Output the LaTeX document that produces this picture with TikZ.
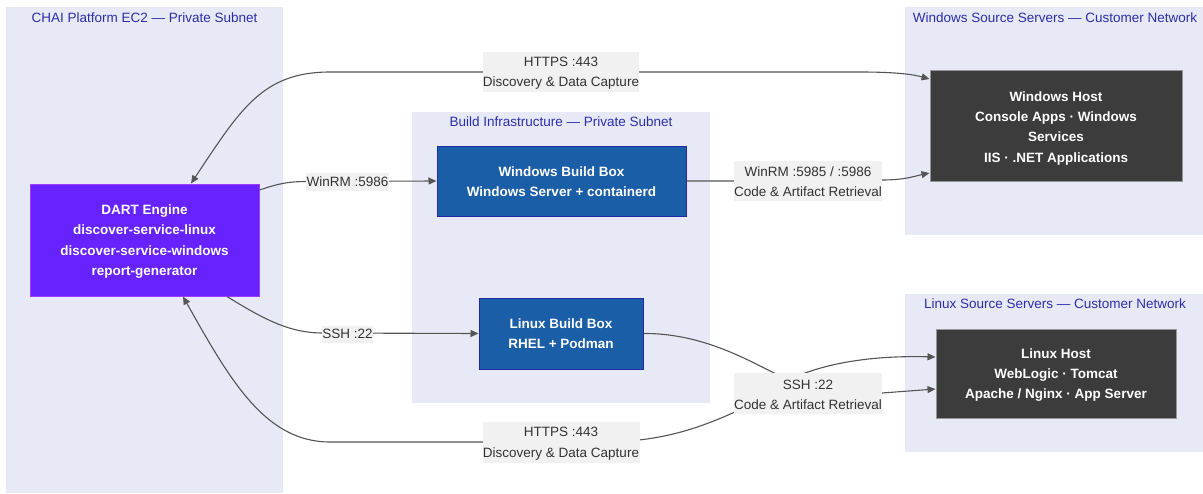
\documentclass[tikz,border=0pt]{standalone}
\usepackage{fontspec}
\setmainfont{Liberation Sans}
\usetikzlibrary{arrows.meta}
\definecolor{clfill}{RGB}{232,233,246}
\definecolor{cltext}{RGB}{45,45,170}
\definecolor{dartfill}{RGB}{102,34,255}
\definecolor{dartdraw}{RGB}{160,60,255}
\definecolor{bbfill}{RGB}{27,94,168}
\definecolor{bbdraw}{RGB}{35,40,165}
\definecolor{hostfill}{RGB}{60,60,60}
\definecolor{hostdraw}{RGB}{150,150,150}
\definecolor{lblfill}{RGB}{240,241,240}
\definecolor{lbltext}{RGB}{51,51,51}
\definecolor{edgecol}{RGB}{85,85,85}
\newcommand\dnr[1]{\rule{0pt}{#1}}
\begin{document}
\begin{tikzpicture}[x=1pt,y=-1pt,
  basefont/.style={font=\fontsize{13.5}{20.3}\selectfont},
  cluster/.style={fill=clfill,draw=none},
  cltitle/.style={basefont,text=cltext,inner sep=0pt},
  boxnode/.style={basefont,align=center,inner sep=0pt,text=white,line width=1pt},
  dartbox/.style={boxnode,fill=dartfill,draw=dartdraw,font=\fontsize{13.5}{20.3}\selectfont\bfseries},
  buildbox/.style={boxnode,fill=bbfill,draw=bbdraw,font=\fontsize{13.5}{20.3}\selectfont\bfseries},
  hostbox/.style={boxnode,fill=hostfill,draw=hostdraw,font=\fontsize{13.5}{20.3}\selectfont\bfseries},
  lbl/.style={basefont,fill=lblfill,text=lbltext,align=center,inner sep=0pt},
  conn/.style={draw=edgecol,line width=1.1pt},
  tip/.tip={Triangle[length=8pt,width=7pt]}
]
\useasboundingbox (0,0) rectangle (1203,493);
\fill[white] (0,0) rectangle (1203,493);

% clusters
\fill[cluster] (6,7) rectangle (283,493);
\node[cltitle] (t1) at (144.5,18) {CHAI Platform EC2 — Private Subnet};
\fill[cluster] (412,112) rectangle (710,403);
\node[cltitle] (t2) at (561,122) {Build Infrastructure — Private Subnet};
\fill[cluster] (905,7) rectangle (1203,235);
\node[cltitle] (t3) at (1055,18) {Windows Source Servers — Customer Network};
\fill[cluster] (905,294) rectangle (1203,452);
\node[cltitle] (t4) at (1055,304) {Linux Source Servers — Customer Network};

% nodes
\node[dartbox,minimum width=229pt,minimum height=112pt] (dart) at (144.5,240)
  {\dnr{12.8pt}DART Engine\\discover-service-linux\\discover-service-windows\\report-generator};
\node[buildbox,minimum width=249pt,minimum height=70pt] (winbuild) at (561.5,181)
  {\dnr{11.8pt}Windows Build Box\\Windows Server + containerd};
\node[buildbox,minimum width=164pt,minimum height=71pt] (linbuild) at (561,333.5)
  {Linux Build Box\\RHEL + Podman};
\node[hostbox,minimum width=252pt,minimum height=111pt] (winhost) at (1056,125.5)
  {\dnr{15pt}Windows Host\\Console Apps · Windows\\Services\\IIS · .NET Applications};
\node[hostbox,minimum width=240pt,minimum height=89pt] (linhost) at (1056,373.5)
  {\dnr{12.8pt}Linux Host\\WebLogic · Tomcat\\Apache / Nginx · App Server};

% connector end points
\coordinate (e1s) at ([xshift=46.5pt]dart.north);
\coordinate (e1e) at ([yshift=46.5pt]winhost.west);
\coordinate (e2s) at ([yshift=50pt]dart.east);
\coordinate (e3e) at ([yshift=-47.5pt]winhost.west);
\coordinate (e4s) at ([xshift=82.5pt]dart.south);
\coordinate (e5e) at ([yshift=16.5pt]linhost.west);
\coordinate (e6s) at ([xshift=38.5pt]dart.south);
\coordinate (e6e) at ([yshift=-15.5pt]linhost.west);

% connectors
\draw[conn,{tip}-{tip}] (e1s) .. controls (240,110) and (262,72) .. (330,72)
  -- (860,72) .. controls (900,72) and (915,75) .. (e1e);
\draw[conn,-{tip}] (e2s) .. controls (280,183) and (290,181.5) .. (307,181.5)
  -- (winbuild.west);
\draw[conn,-{tip}] (winbuild.east) -- (800,181) -- (882,180)
  .. controls (905,180) and (915,176) .. (e3e);
\draw[conn,-{tip}] (e4s) .. controls (265,320) and (290,333) .. (323,333)
  -- (linbuild.west);
\draw[conn,-{tip}] (linbuild.east) .. controls (710,333) and (760,368) .. (789,380)
  .. controls (815,367) and (860,355) .. (e5e);
\draw[conn,{tip}-{tip}] (e6s) .. controls (230,380) and (265,442) .. (330,442)
  -- (600,442) .. controls (660,442) and (700,430) .. (760,400)
  -- (882,393) -- (e6e);

% labels
\node[lbl,minimum width=156pt,minimum height=40pt] (l1) at (561,72)
  {\dnr{11.8pt}HTTPS :443\\Discovery \& Data Capture};
\node[lbl,minimum width=83pt,minimum height=18pt] (l2) at (347.5,182) {WinRM :5986};
\node[lbl,minimum width=148pt,minimum height=40pt] (l3) at (808,181)
  {\dnr{11.8pt}WinRM :5985 / :5986\\Code \& Artifact Retrieval};
\node[lbl,minimum width=51pt,minimum height=17pt] (l4) at (347.5,334) {SSH :22};
\node[lbl,minimum width=148pt,minimum height=41pt] (l5) at (808,393.5)
  {\dnr{11.8pt}SSH :22\\Code \& Artifact Retrieval};
\node[lbl,minimum width=157pt,minimum height=41pt] (l6) at (561,442.5)
  {\dnr{11.8pt}HTTPS :443\\Discovery \& Data Capture};
\end{tikzpicture}
\end{document}
